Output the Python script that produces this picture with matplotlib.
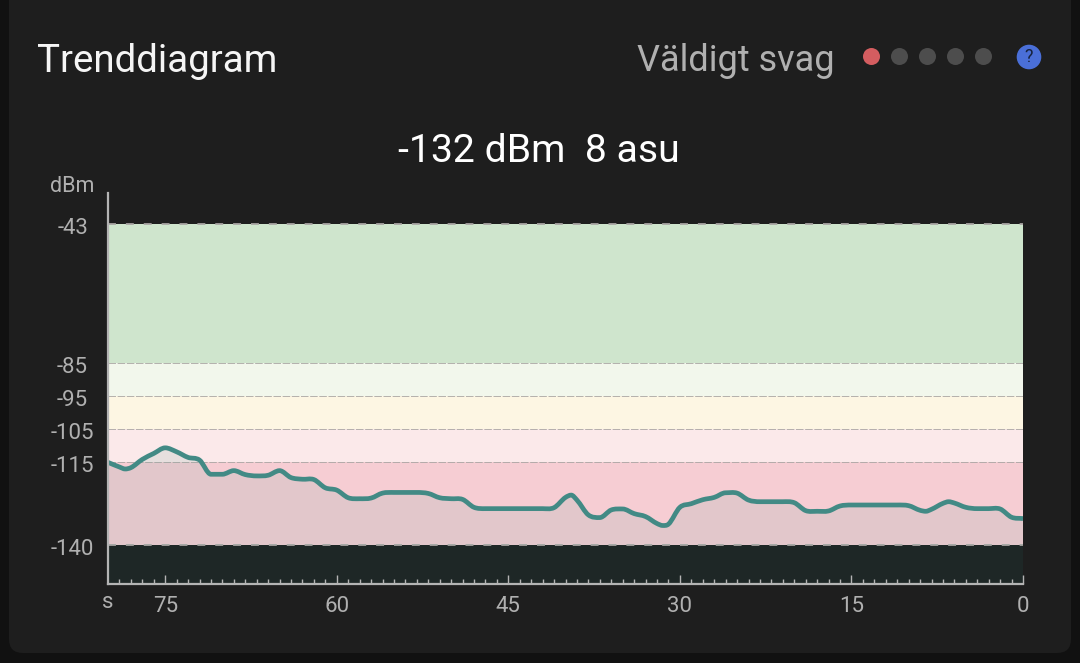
import matplotlib
matplotlib.use("Agg")
import matplotlib.pyplot as plt
from matplotlib.patches import FancyBboxPatch, Circle, PathPatch
from matplotlib.path import Path
from matplotlib.transforms import ScaledTranslation

plt.rcParams['font.family'] = ['Roboto', 'DejaVu Sans']

# ---- data ----
seconds = [80, 79, 78.5, 78, 77, 76, 75, 74, 73, 72, 71, 70, 69, 68, 67, 66, 65, 64, 63, 62, 61, 60,
           59, 58, 57, 56, 55, 54, 53, 52, 51, 50, 49, 48, 47, 46, 45, 44, 43, 42, 41, 40, 39.5, 39,
           38, 37, 36, 35, 34, 33, 32, 31.5, 31, 30, 29, 28, 27, 26, 25, 24, 23, 22, 21, 20, 19, 18,
           17, 16, 15, 14, 13, 12, 11, 10, 9, 8.5, 8, 7, 6.5, 6, 5, 4, 3, 2, 1, 0]
dbm = [-115.0, -116.4, -117.0, -116.6, -114.1, -112.3, -110.6, -111.8, -113.5, -114.3, -118.6, -118.6,
       -117.5, -118.7, -119.1, -118.9, -117.5, -119.6, -120.1, -120.2, -122.7, -123.4,
       -125.7, -126.0, -125.8, -124.3, -124.1, -124.1, -124.1, -124.4, -125.7, -126.0, -126.2, -128.6,
       -129.0, -129.0, -129.0, -129.0, -129.0, -129.0, -128.7, -125.6, -124.9, -126.4,
       -130.9, -131.7, -129.4, -129.1, -130.5, -131.4, -133.5, -134.1, -133.7, -128.6, -127.5, -126.3,
       -125.6, -124.2, -124.3, -126.4, -126.9, -126.9, -126.9, -127.2, -129.6, -129.8,
       -129.7, -128.2, -127.9, -127.9, -127.9, -127.9, -127.9, -128.1, -129.5, -129.8, -129.2, -127.4,
       -126.9, -127.3, -128.6, -129.0, -129.0, -129.1, -131.6, -132.0]
band_edges = [-43, -85, -95, -105, -115, -140]
band_colors = ['#cfe5cd', '#f2f7ec', '#fdf6e3', '#fbe9ea', '#f6cdd3']
y_ticks = [-43, -85, -95, -105, -115, -140]
x_ticks = [75, 60, 45, 30, 15, 0]
signal_dots = ['#d45d60', '#4d4d4d', '#4d4d4d', '#4d4d4d', '#4d4d4d']


def smooth_path_parts(xs, ys):
    """Bezier vertices/codes through every read point (flat at local extremes, as the app's curve)."""
    n = len(xs)
    slopes = []
    for i in range(n):
        if i == 0 or i == n - 1:
            j = 1 if i == 0 else n - 1
            slopes.append((ys[j] - ys[j - 1]) / (xs[j] - xs[j - 1]))
            continue
        a = (ys[i] - ys[i - 1]) / (xs[i] - xs[i - 1])
        b = (ys[i + 1] - ys[i]) / (xs[i + 1] - xs[i])
        slopes.append(0.0 if a * b <= 0 else (a + b) / 2)
    verts = [(xs[0], ys[0])]
    codes = [Path.MOVETO]
    for i in range(n - 1):
        d = (xs[i + 1] - xs[i]) / 3
        verts += [(xs[i] + d, ys[i] + slopes[i] * d),
                  (xs[i + 1] - d, ys[i + 1] - slopes[i + 1] * d),
                  (xs[i + 1], ys[i + 1])]
        codes += [Path.CURVE4] * 3
    return verts, codes


W, H = 1080, 663
fig = plt.figure(figsize=(W / 100, H / 100), dpi=100, facecolor='#111111')

# pixel-space backdrop
bg = fig.add_axes([0, 0, 1, 1], zorder=0)
bg.set_xlim(0, W); bg.set_ylim(H, 0); bg.axis('off')
bg.add_patch(FancyBboxPatch((9 + 14, -40), 1062 - 28, 693 - 14,
                            boxstyle='round,pad=14,rounding_size=14',
                            fc='#1e1e1e', ec='none'))
bg.text(37, 61, 'Trenddiagram', color='#f5f5f5', fontsize=27.7, va='center', ha='left')
bg.text(637, 61, 'Väldigt svag', color='#b0b0b0', fontsize=26, va='center', ha='left')
bg.text(539, 151, '-132 dBm  8 asu', color='#ffffff', fontsize=28.2, va='center', ha='center')
bg.text(72.5, 186, 'dBm', color='#b0b0b0', fontsize=15.5, va='center', ha='center')
bg.text(108, 603, 's', color='#b0b0b0', fontsize=16, va='center', ha='center')
for i, c in enumerate(signal_dots):
    bg.add_patch(Circle((871.5 + 28 * i, 56.5), 8.5, fc=c, ec='none'))
bg.add_patch(Circle((1029, 57), 12.3, fc='#4a6fd8', ec='none'))
bg.text(1029, 57.5, '?', color='#17233f', fontsize=13, va='center', ha='center')

# chart
ax = fig.add_axes([108 / W, 1 - 584 / H, (1023 - 108) / W, (584 - 193) / H], zorder=1)
ax.patch.set_alpha(0)
ax.set_xlim(80, 0)
ax.set_ylim(-151.8, -33.5)

for top, bot, col in zip(band_edges[:-1], band_edges[1:], band_colors):
    ax.axhspan(bot, top, color=col, lw=0, zorder=1)
ax.axhspan(-151.8, -140, color='#1e2726', lw=0, zorder=1)

for v in band_edges:
    heavy = v in (-43, -140)
    ax.axhline(v, color='#a9a5a3', lw=1.3 if heavy else 0.6,
               dashes=(4.4, 5.5) if heavy else (9, 2), zorder=2)

verts, codes = smooth_path_parts(seconds, dbm)
area = Path(verts + [(seconds[-1], -140), (seconds[0], -140), (seconds[0], -140)],
            codes + [Path.LINETO, Path.LINETO, Path.CLOSEPOLY])
ax.add_patch(PathPatch(area, fc='#70ab9e', alpha=0.15, lw=0, zorder=3))
ax.add_patch(PathPatch(Path(verts, codes), fc='none', ec='#428a85', lw=3.4,
                       joinstyle='round', capstyle='butt', zorder=4))

for s in ('top', 'right'):
    ax.spines[s].set_visible(False)
for s in ('left', 'bottom'):
    ax.spines[s].set_color('#b4b4b4')
    ax.spines[s].set_linewidth(1.6)
    ax.spines[s].set_zorder(6)

ax.set_yticks(y_ticks)
ax.set_yticklabels([str(v) for v in y_ticks])
ax.tick_params(axis='y', length=0, pad=25.5, labelsize=16, labelcolor='#b0b0b0')
shift = ScaledTranslation(0, -1.5 / 72, fig.dpi_scale_trans)
for t in ax.get_yticklabels():
    t.set_ha('center')
    t.set_transform(t.get_transform() + shift)

ax.set_xticks(x_ticks)
ax.set_xticklabels([str(v) for v in x_ticks])
ax.set_xticks(range(1, 80), minor=True)
ax.tick_params(axis='x', which='major', direction='in', length=6.5, width=1.0, color='#b4b4b4',
               labelsize=16, labelcolor='#b0b0b0', pad=8.5)
ax.tick_params(axis='x', which='minor', direction='in', length=3.4, width=1.0, color='#b4b4b4')

fig.savefig('out.png', dpi=100, facecolor=fig.get_facecolor())
